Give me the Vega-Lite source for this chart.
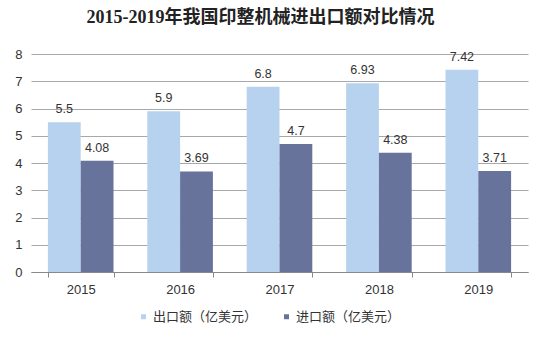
{
  "$schema": "https://vega.github.io/schema/vega-lite/v6.json",
  "autosize": "none",
  "width": 497,
  "height": 218,
  "padding": {"left": 31, "top": 54, "right": 22, "bottom": 70},
  "background": "white",
  "title": {
    "text": "2015-2019年我国印整机械进出口额对比情况",
    "font": "Liberation Serif, Noto Sans CJK SC",
    "fontSize": 18,
    "fontWeight": "bold",
    "color": "#222222",
    "anchor": "middle",
    "dx": -19,
    "offset": 21
  },
  "data": {
    "values": [
      {"year": "2015", "type": "出口额（亿美元）", "value": 5.5},
      {"year": "2015", "type": "进口额（亿美元）", "value": 4.08},
      {"year": "2016", "type": "出口额（亿美元）", "value": 5.9},
      {"year": "2016", "type": "进口额（亿美元）", "value": 3.69},
      {"year": "2017", "type": "出口额（亿美元）", "value": 6.8},
      {"year": "2017", "type": "进口额（亿美元）", "value": 4.7},
      {"year": "2018", "type": "出口额（亿美元）", "value": 6.93},
      {"year": "2018", "type": "进口额（亿美元）", "value": 4.38},
      {"year": "2019", "type": "出口额（亿美元）", "value": 7.42},
      {"year": "2019", "type": "进口额（亿美元）", "value": 3.71}
    ]
  },
  "encoding": {
    "x": {
      "field": "year", "type": "nominal", "title": null,
      "scale": {"paddingInner": 0.34, "paddingOuter": 0.17},
      "axis": {
        "labelAngle": 0, "labelFont": "Liberation Sans", "labelFontSize": 13,
        "labelColor": "#333333", "labelPadding": 6,
        "domainColor": "#888888", "tickColor": "#888888", "tickSize": 5,
        "tickBand": "extent", "grid": false
      }
    },
    "xOffset": {"field": "type", "type": "nominal", "sort": ["出口额（亿美元）", "进口额（亿美元）"]},
    "y": {
      "field": "value", "type": "quantitative", "title": null,
      "scale": {"domain": [0, 8], "nice": false},
      "axis": {
        "values": [0, 1, 2, 3, 4, 5, 6, 7, 8],
        "labelOverlap": false,
        "domain": false, "ticks": false,
        "labelFont": "Liberation Sans", "labelFontSize": 13, "labelColor": "#333333",
        "labelPadding": 9, "gridColor": "#a8a8a8", "gridWidth": 1
      }
    }
  },
  "layer": [
    {
      "mark": {"type": "bar"},
      "encoding": {
        "color": {
          "field": "type", "type": "nominal",
          "scale": {"domain": ["出口额（亿美元）", "进口额（亿美元）"], "range": ["#B7D2EE", "#68739B"]},
          "legend": {
            "title": null, "orient": "none", "direction": "horizontal",
            "legendX": 106, "legendY": 256,
            "symbolType": "square", "symbolSize": 25, "symbolOpacity": 1,
            "labelFont": "Noto Sans CJK SC", "labelFontSize": 13, "labelColor": "#333333",
            "columnPadding": 22, "labelOffset": 3
          }
        }
      }
    },
    {
      "mark": {"type": "text", "baseline": "bottom", "dy": -6, "font": "Liberation Sans", "fontSize": 12.5, "color": "#333333"},
      "encoding": {
        "text": {"field": "value", "type": "quantitative"}
      }
    }
  ],
  "config": {"view": {"stroke": null}}
}
